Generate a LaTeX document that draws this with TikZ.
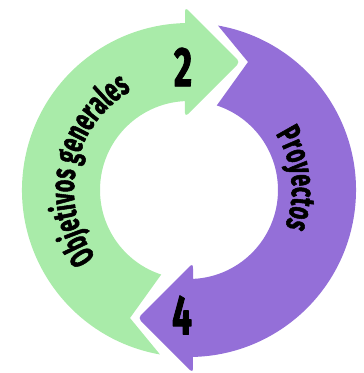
\documentclass[tikz,border=0pt]{standalone}
\usepackage{fontspec}
\newfontfamily\ringfont{Fira Sans}[FakeStretch=0.62,FakeBold=1.5]
\usetikzlibrary{decorations.text}
\definecolor{verde}{RGB}{169,235,169}
\definecolor{morado}{RGB}{148,111,216}
\begin{document}
\begin{tikzpicture}[x=1pt,y=1pt,line join=round,font=\ringfont\bfseries\fontsize{56}{56}\selectfont]
    \useasboundingbox (-189,-183) rectangle (175,190);
    % la flecha verde es la morada girada 180 grados
    \foreach \col/\rot in {morado/0,verde/180}
        \fill[\col,rotate=\rot] (80:167) arc[start angle=80,end angle=-88.63,radius=167]
            [rounded corners=4] -- (4,-183) -- (-51,-128) -- (4,-73) [sharp corners]
            -- (-87.42:89) arc[start angle=-87.42,end angle=71.8,radius=89] -- (59,128) -- cycle;
    \path[decorate,decoration={text along path,text align=center,
        text={|\ringfont\bfseries\fontsize{34}{34}\selectfont|Objetivos generales}}]
        (258:115) arc[start angle=258,end angle=78,radius=115];
    \path[decorate,decoration={text along path,text align=center,
        text={|\ringfont\bfseries\fontsize{34}{34}\selectfont|Proyectos}}]
        (96:103) arc[start angle=96,end angle=-84,radius=103];
    \node (dos) at (-6,123) {2};
    \node (cuatro) at (-7,-125) {4};
\end{tikzpicture}
\end{document}
